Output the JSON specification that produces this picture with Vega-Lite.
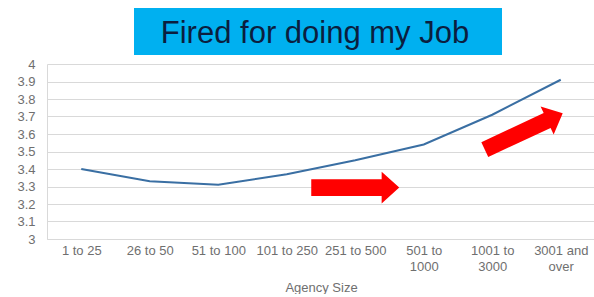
{
  "$schema": "https://vega.github.io/schema/vega-lite/v6.json",
  "padding": {"left": 16, "top": 8, "right": 0, "bottom": 0},
  "background": "white",
  "config": {"font": "Liberation Sans", "view": {"stroke": null}},
  "datasets": {
    "title": [{"title": "Fired for doing my Job"}],
    "survey": [
      {"size": "1 to 25", "score": 3.40},
      {"size": "26 to 50", "score": 3.33},
      {"size": "51 to 100", "score": 3.31},
      {"size": "101 to 250", "score": 3.37},
      {"size": "251 to 500", "score": 3.45},
      {"size": "501 to 1000", "score": 3.54},
      {"size": "1001 to 3000", "score": 3.71},
      {"size": "3001 and over", "score": 3.91}
    ],
    "arrows": [
      {"arrow": "flat", "size": "251 to 500", "score": 3.294},
      {"arrow": "rising", "size": "3001 and over", "score": 3.615}
    ]
  },
  "bounds": "full",
  "spacing": 3,
  "vconcat": [
    {
      "bounds": "flush",
      "spacing": 0,
      "hconcat": [
        {
          "width": 87, "height": 47,
          "view": {"fill": "white", "stroke": null},
          "data": {"values": [{}]},
          "mark": {"type": "text"},
          "encoding": {"text": {"value": ""}}
        },
        {
          "width": 368, "height": 47,
          "view": {"fill": "#00B0F0", "stroke": null},
          "data": {"name": "title"},
          "mark": {"type": "text", "fontSize": 31, "color": "#0B1E3F", "baseline": "middle", "align": "center", "dy": 2, "dx": -3},
          "encoding": {"text": {"field": "title"}}
        }
      ]
    },
    {
      "width": 548, "height": 175,
      "encoding": {
        "x": {
          "field": "size", "type": "ordinal",
          "scale": {"domain": ["1 to 25", "26 to 50", "51 to 100", "101 to 250", "251 to 500", "501 to 1000", "1001 to 3000", "3001 and over"]},
          "axis": {
            "title": "Agency Size", "titleFontSize": 13, "titleFontWeight": "normal", "titleColor": "#6F6F6F", "titlePadding": 8,
            "labelAngle": 0, "labelFontSize": 13, "labelColor": "#6F6F6F", "labelPadding": 5, "labelOverlap": false, "labelLineHeight": 16,
            "labelExpr": "datum.label == '501 to 1000' ? ['501 to', '1000'] : datum.label == '1001 to 3000' ? ['1001 to', '3000'] : datum.label == '3001 and over' ? ['3001 and', 'over'] : datum.label",
            "ticks": false, "domain": true, "domainColor": "#D9D9D9", "grid": false
          }
        },
        "y": {
          "field": "score", "type": "quantitative",
          "scale": {"domain": [3, 4], "nice": false, "zero": false},
          "axis": {
            "title": null, "values": [3, 3.1, 3.2, 3.3, 3.4, 3.5, 3.6, 3.7, 3.8, 3.9, 4], "format": ".1~f",
            "labelFontSize": 13, "labelColor": "#6F6F6F", "labelPadding": 12,
            "ticks": false, "domain": true, "domainColor": "#D9D9D9", "grid": true, "gridColor": "#D9D9D9"
          }
        }
      },
      "layer": [
        {
          "data": {"name": "survey"},
          "mark": {"type": "line", "color": "#3A6FA3", "strokeWidth": 2}
        },
        {
          "data": {"name": "arrows"},
          "transform": [{"filter": "datum.arrow == 'flat'"}],
          "mark": {"type": "point", "shape": "M-1,-0.19L0.6,-0.19L0.6,-0.36L1,0L0.6,0.36L0.6,0.19L-1,0.19Z", "size": 7744, "filled": true, "color": "#FF0000", "opacity": 1, "strokeWidth": 0}
        },
        {
          "data": {"name": "arrows"},
          "transform": [{"filter": "datum.arrow == 'rising'"}],
          "mark": {"type": "point", "shape": "M-1,-0.19L0.6,-0.19L0.6,-0.36L1,0L0.6,0.36L0.6,0.19L-1,0.19Z", "size": 7396, "filled": true, "color": "#FF0000", "opacity": 1, "strokeWidth": 0, "angle": 335, "xOffset": -37}
        }
      ]
    }
  ]
}
